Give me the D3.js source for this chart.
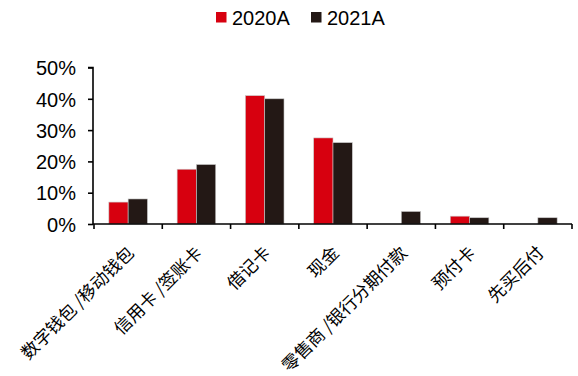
<!DOCTYPE html>
<html><head><meta charset="utf-8">
<script src="https://cdn.jsdelivr.net/npm/d3@7"></script>
<style>
html,body{margin:0;padding:0;background:#fff;}
svg{display:block;}
</style></head>
<body>
<svg id="chart" width="578" height="376"></svg>
<script>
const categories = ["数字钱包 /移动钱包","信用卡 /签账卡","借记卡","现金","零售商 /银行分期付款","预付卡","先买后付"];
const seriesNames = ["2020A","2021A"];
const values2020 = [0.07,0.175,0.41,0.275,0,0.025,0];
const values2021 = [0.08,0.19,0.40,0.26,0.04,0.02,0.02];
const yTicks = [0,0.1,0.2,0.3,0.4,0.5];
const colors = ["#d7000f","#231815"];

const svg = d3.select("#chart");
const latin = "'Liberation Sans', Arial, sans-serif";
const cjk = "'Noto Sans CJK SC', sans-serif";

const y = d3.scaleLinear().domain([0,0.5]).range([224,67.5]);
const x0 = d3.scaleBand().domain(categories).range([94,572]).padding(0);
const bw = x0.bandwidth();
const x1 = d3.scaleBand().domain(seriesNames).range([14.85, bw-14.85]).padding(0);

const data = categories.map((c,i)=>({cat:c, vals:[values2020[i], values2021[i]]}));

const g = svg.append("g");
const groups = g.selectAll("g.cat").data(data).join("g")
  .attr("transform", d=>`translate(${x0(d.cat)},0)`);
groups.selectAll("rect").data(d=>d.vals.map((v,j)=>({v, s:seriesNames[j], j})))
  .join("rect")
  .filter(d=>d.v>0)
  .attr("x", d=>x1(d.s))
  .attr("y", d=>y(d.v))
  .attr("width", x1.bandwidth())
  .attr("height", d=>y(0)-y(d.v))
  .attr("fill", d=>colors[d.j])
  .attr("stroke", "#c8c8c8")
  .attr("stroke-width", 0.6);

// Y axis
const yAxis = d3.axisLeft(y).tickValues(yTicks).tickFormat(d3.format(".0%")).tickSize(5).tickPadding(12);
const ya = svg.append("g").attr("transform","translate(93,0)").call(yAxis);
ya.select(".domain").attr("stroke","#000").attr("stroke-width",1.6).attr("d","M-5,67.5H0V224");
ya.selectAll(".tick line").attr("stroke","#000").attr("stroke-width",1.6);
ya.selectAll(".tick text").attr("font-family",latin).attr("font-size",20).attr("fill","#000")
  .attr("dy","0.36em");

// X axis
const xa = svg.append("g").attr("transform","translate(0,224)");
xa.append("line").attr("x1",93).attr("x2",572).attr("y1",0).attr("y2",0).attr("stroke","#000").attr("stroke-width",1.6);
const boundaries = categories.map(c=>x0(c)).concat([x0(categories[categories.length-1])+bw]);
xa.selectAll("line.tk").data(boundaries).join("line").attr("class","tk")
  .attr("x1",d=>d).attr("x2",d=>d).attr("y1",0).attr("y2",5).attr("stroke","#000").attr("stroke-width",1.6);
xa.selectAll("text").data(categories).join("text")
  .attr("transform", d=>`translate(${x0(d)+bw/2+7},${30}) rotate(-45)`)
  .attr("text-anchor","end")
  .attr("font-family",cjk).attr("font-size",17.5).attr("fill","#000")
  .text(d=>d);

// Legend
const leg = svg.append("g");
const legX = [216, 311];
seriesNames.forEach((s,i)=>{
  leg.append("rect").attr("x",legX[i]).attr("y",12).attr("width",10.5).attr("height",10.5).attr("fill",colors[i]);
  leg.append("text").attr("x",legX[i]+16).attr("y",25).attr("font-family",latin).attr("font-size",20).attr("fill","#000").text(s);
});
</script>
</body></html>
